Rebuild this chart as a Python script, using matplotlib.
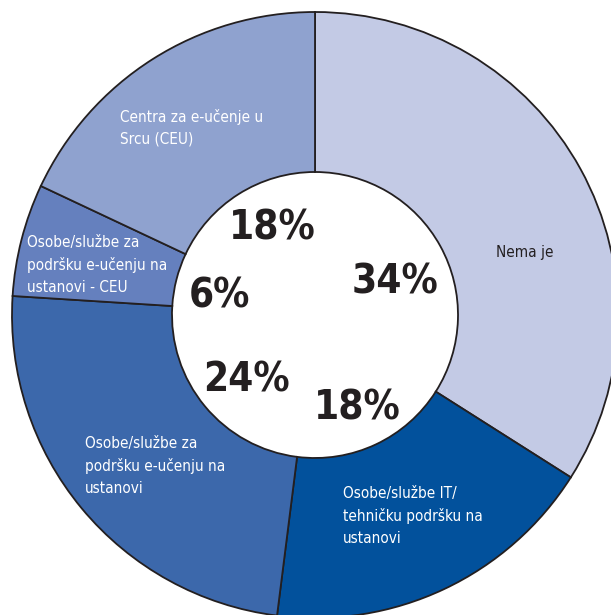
import matplotlib
matplotlib.use("Agg")
import matplotlib.pyplot as plt
from matplotlib import font_manager

# data
categories = ["Nema je",
              "Osobe/službe IT/\ntehničku podršku na\nustanovi",
              "Osobe/službe za\npodršku e-učenju na\nustanovi",
              "Osobe/službe za\npodršku e-učenju na\nustanovi - CEU",
              "Centra za e-učenje u\nSrcu (CEU)"]
values = [34, 18, 24, 6, 18]
colors = ["#c3cae5", "#02519c", "#3c68ab", "#6580be", "#8fa2cf"]
text_colors = ["#231f20", "white", "white", "white", "white"]

# label placement in pixels (x, y from top)
cat_pos = [(496, 252), (343, 516), (85, 466), (27, 265), (120, 128)]
pct_pos = [(395, 283), (357, 409), (246, 380), (219, 297), (272, 228)]

names = set(f.name for f in font_manager.fontManager.ttflist)
if "Liberation Sans Narrow" in names:
    fam = "Liberation Sans Narrow"
    stretch = "normal"
else:
    fam = "DejaVu Sans"
    stretch = "condensed"

W, H = 611, 615
fig = plt.figure(figsize=(W / 100, H / 100), dpi=100)
ax = fig.add_axes([0, 0, 1, 1])

cx, cy = 315, H - 315
R, r = 303, 143

ax.pie(values, colors=colors, startangle=90, counterclock=False,
       center=(cx, cy), radius=R, frame=True,
       wedgeprops=dict(width=R - r, edgecolor="#231f20", linewidth=1.3))
ax.set_xlim(0, W)
ax.set_ylim(0, H)
ax.set_aspect("equal")
ax.axis("off")

for lab, (x, y), tc in zip(categories, cat_pos, text_colors):
    ax.text(x, H - y, lab, color=tc, fontsize=11, family=fam,
            fontstretch=stretch, ha="left", va="center", linespacing=1.55)

for v, (x, y) in zip(values, pct_pos):
    ax.text(x, H - y, f"{v}%", color="#231f20", fontsize=29, family=fam,
            fontstretch=stretch, fontweight="bold", ha="center", va="center")

fig.savefig("out.png", dpi=100)
